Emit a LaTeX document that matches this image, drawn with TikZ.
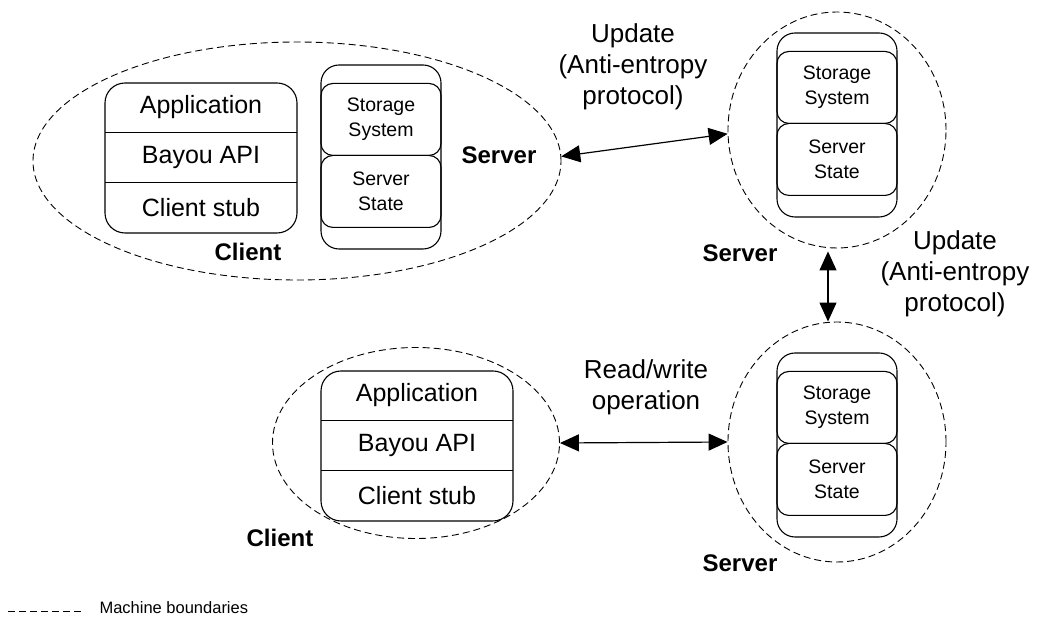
\documentclass[tikz,border=0pt]{standalone}
\usepackage{fontspec}
\setmainfont{Liberation Sans}
\usetikzlibrary{positioning,shapes.geometric,arrows.meta}
\begin{document}
\begin{tikzpicture}
                    [x=1pt, y=1pt,
                    mach/.style={ellipse, draw,
                        dash pattern=on 7pt off 4pt,
                        line width=.9pt, inner sep=0pt},
                    cstack/.style={rectangle, draw,
                        rounded corners=20pt, line width=1.1pt,
                        minimum width=192pt, minimum height=150pt},
                    layer/.style={rectangle,
                        inner sep=0pt, outer sep=0pt,
                        minimum width=192pt, minimum height=50pt,
                        font=\fontsize{25}{30}\selectfont},
                    sstack/.style={rectangle, draw,
                        rounded corners=18pt, line width=1.1pt,
                        minimum width=120pt, minimum height=184pt},
                    part/.style={rectangle, draw,
                        rounded corners=12pt, line width=1.1pt,
                        outer sep=0pt, align=center,
                        minimum width=120pt, minimum height=72pt,
                        font=\fontsize{19.5}{25}\selectfont},
                    lbl/.style={font=\fontsize{24}{28}\selectfont\bfseries},
                    msg/.style={align=center,
                        font=\fontsize{26}{31}\selectfont},
                    link/.style={{Triangle[length=19pt,width=17pt]}-{Triangle[length=19pt,width=17pt]},
                        line width=1.2pt},
                    node distance=0pt]

                    \useasboundingbox (0,0) rectangle (1037,618);

                    \node[mach, minimum width=528pt, minimum height=238pt]
                        (m1) at (297,457) {};
                    \node[mach, minimum width=218pt, minimum height=236pt]
                        (m2) at (837,488) {};
                    \node[mach, minimum width=218pt, minimum height=240pt]
                        (m3) at (837,176) {};
                    \node[mach, minimum width=287pt, minimum height=191pt]
                        (m4) at (416,175) {};

                    \node[cstack] (c1) at (201,460) {};
                    \node[layer, below=of c1.north] (c1app) {Application};
                    \node[layer, below=of c1app] (c1api) {Bayou API};
                    \node[layer, below=of c1api] (c1stub) {Client stub};
                    \draw[line width=1.1pt]
                        (c1app.south west) -- (c1app.south east)
                        (c1api.south west) -- (c1api.south east);

                    \node[cstack] (c2) at (417,172) {};
                    \node[layer, below=of c2.north] (c2app) {Application};
                    \node[layer, below=of c2app] (c2api) {Bayou API};
                    \node[layer, below=of c2api] (c2stub) {Client stub};
                    \draw[line width=1.1pt]
                        (c2app.south west) -- (c2app.south east)
                        (c2api.south west) -- (c2api.south east);

                    \node[sstack] (s1) at (381,461) {};
                    \node[part, below=19pt of s1.north] (s1sto) {Storage\\System};
                    \node[part, below=of s1sto] (s1st) {Server\\State};

                    \node[sstack] (s2) at (837,493) {};
                    \node[part, below=19pt of s2.north] (s2sto) {Storage\\System};
                    \node[part, below=of s2sto] (s2st) {Server\\State};

                    \node[sstack] (s3) at (837,173) {};
                    \node[part, below=19pt of s3.north] (s3sto) {Storage\\System};
                    \node[part, below=of s3sto] (s3st) {Server\\State};

                    \node[lbl] (l1) at (248,366) {Client};
                    \node[lbl] (l2) at (499,463) {Server};
                    \node[lbl] (l3) at (740,365) {Server};
                    \node[lbl] (l4) at (740,55) {Server};
                    \node[lbl] (l5) at (280,80) {Client};

                    \node[msg] (u1) at (633,551)
                        {Update\\(Anti-entropy\\protocol)};
                    \node[msg] (u2) at (955,344)
                        {Update\\(Anti-entropy\\protocol)};
                    \node[msg] (rw) at (646,231)
                        {Read/write\\operation};

                    \draw[link] (m1.1.5) -- (m2.182);
                    \draw[link, shorten <=3pt]
                        ([xshift=-9pt]m2.south) -- ([xshift=-9pt]m3.north);
                    \draw[link] (m4.east) -- (m3.west);

                    \coordinate (lg1) at (8,7);
                    \coordinate (lg2) at (82,7);
                    \draw[dash pattern=on 7pt off 4pt, line width=.9pt]
                        (lg1) -- (lg2);
                    \node[anchor=west, font=\fontsize{16.5}{20}\selectfont]
                        (lgt) at (96,10) {Machine boundaries};
                \end{tikzpicture}
\end{document}
